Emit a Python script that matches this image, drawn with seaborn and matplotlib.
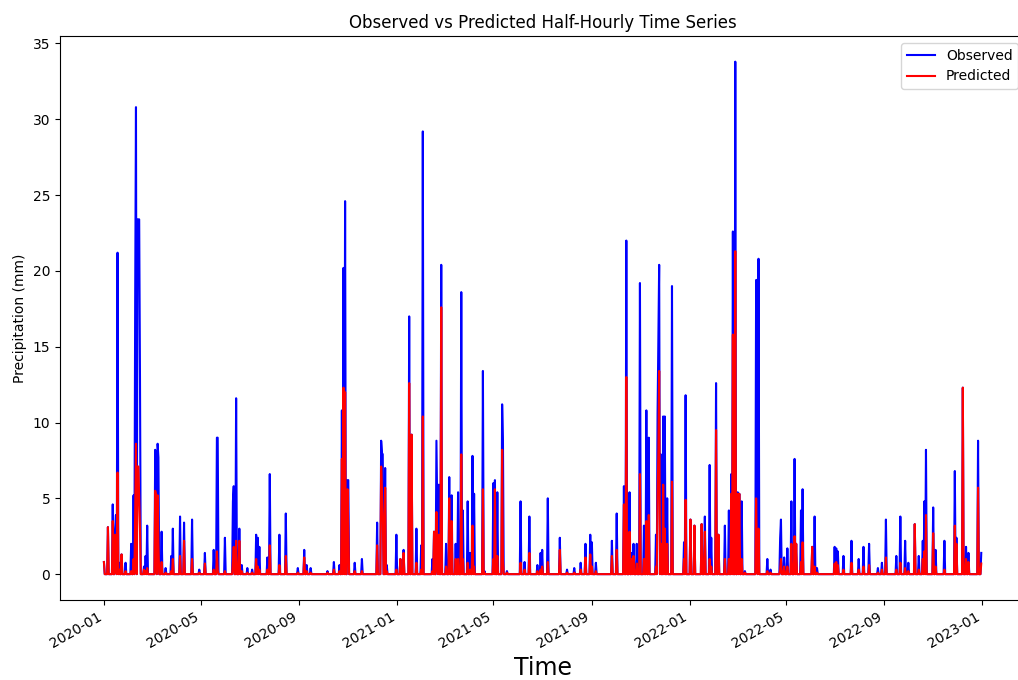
"""Observed vs predicted precipitation, half-hourly series (2020-2022).

Spike events are read off the reference chart: day offset from START,
observed peak and predicted peak in mm. All other steps are dry (0 mm).
"""

import pandas as pd
import matplotlib
matplotlib.use('Agg')
import matplotlib.pyplot as plt
import seaborn as sns

START = '2020-01-01'
END = '2022-12-31'

# day offset from START for each rain event
EVENT_DAY = [
    0, 5, 11, 14, 15, 17, 19, 22, 27, 34, 37, 39, 40, 42, 43, 44, 45, 50, 52, 54,
    64, 65, 67, 68, 72, 77, 84, 86, 95, 100, 110, 119, 126, 137, 141, 142, 151,
    161, 162, 165, 169, 172, 179, 185, 190, 192, 194, 204, 207, 219, 227, 242,
    250, 253, 258, 279, 287, 294, 297, 299, 301, 304, 305, 313, 322, 341, 346,
    347, 348, 351, 353, 365, 370, 374, 381, 384, 390, 396, 398, 410, 412, 415,
    416, 418, 421, 427, 431, 434, 439, 442, 446, 448, 454, 457, 460, 462, 473,
    475, 486, 488, 491, 497, 498, 503, 520, 525, 531, 541, 545, 547, 554, 569,
    578, 587, 595, 601, 607, 609, 614, 634, 640, 649, 652, 656, 659, 661, 665,
    669, 674, 677, 680, 689, 691, 692, 693, 695, 698, 700, 703, 709, 724, 726,
    732, 737, 746, 750, 756, 758, 764, 767, 775, 780, 783, 785, 788, 791, 793,
    796, 800, 814, 815, 817, 828, 832, 844, 845, 849, 853, 858, 862, 864, 870,
    872, 884, 887, 890, 912, 914, 916, 923, 933, 942, 948, 955, 966, 971, 976,
    989, 994, 1000, 1004, 1012, 1017, 1022, 1024, 1026, 1035, 1038, 1049, 1062,
    1064, 1072, 1076, 1079, 1091, 1095,
]

# observed peak (mm) per event
OBSERVED_MM = [
    0.8, 3.1, 4.6, 3.0, 3.9, 21.2, 0.75, 1.3, 0.75, 2.0, 5.2, 18.0, 30.8, 23.4, 23.4, 23.4, 13.0, 0.5, 1.2, 3.2,
    8.2, 5.5, 8.6, 7.7, 2.8, 0.4, 1.2, 3.0, 3.8, 3.4, 3.6, 0.3, 1.4, 1.6, 9.0, 9.0, 2.4,
    4.8, 5.8, 11.6, 3.0, 0.6, 0.4, 0.3, 2.6, 2.4, 1.8, 1.1, 6.6, 2.6, 4.0, 0.4,
    1.6, 0.6, 0.4, 0.2, 0.8, 0.6, 10.8, 20.2, 24.6, 6.2, 6.2, 0.75, 1.0, 3.4, 8.8,
    8.0, 7.9, 7.0, 0.6, 2.6, 1.0, 1.6, 17.0, 9.2, 3.0, 1.9, 29.2, 1.0, 2.8, 8.8,
    4.5, 5.9, 20.4, 2.0, 6.4, 5.2, 2.0, 5.4, 18.6, 4.2, 4.8, 1.4, 7.8, 5.3, 13.4,
    0.2, 6.0, 6.2, 5.4, 11.2, 8.9, 0.2, 4.8, 0.8, 3.8, 0.6, 1.4, 1.6, 5.0, 2.4,
    0.3, 0.4, 0.75, 2.0, 2.6, 2.1, 0.75, 2.2, 4.0, 5.8, 22.0, 5.4, 1.4, 2.0, 2.0,
    19.2, 3.2, 10.8, 9.0, 2.6, 10.6, 15.4, 20.4, 7.9, 10.4, 10.4, 5.0, 19.0, 2.1, 11.8,
    3.6, 3.2, 3.3, 3.8, 7.2, 2.4, 12.6, 2.6, 3.2, 4.2, 6.6, 22.6, 33.8, 5.4, 5.3,
    4.8, 0.2, 19.4, 19.4, 20.8, 1.0, 0.3, 2.4, 3.6, 1.1, 1.7, 4.8, 7.6, 2.0, 4.2,
    5.6, 1.8, 3.8, 0.4, 1.8, 1.7, 1.5, 1.2, 2.2, 1.0, 1.8, 2.0, 0.4, 0.75, 3.6,
    1.2, 3.8, 2.2, 0.75, 3.3, 1.2, 2.2, 4.8, 8.2, 4.4, 1.6, 2.2, 6.8,
    2.4, 12.3, 1.8, 1.4, 8.8, 1.4,
]

# predicted peak (mm) per event
PREDICTED_MM = [
    0.8, 3.1, 3.5, 2.6, 1.0, 6.7, 0.3, 1.3, 0.2, 0.2, 1.0, 4.0, 8.6, 7.1, 7.1, 5.0, 3.0, 0.3, 0.2, 0.4,
    5.5, 5.2, 5.2, 2.0, 0.8, 0.1, 0.2, 1.0, 1.2, 2.2, 1.0, 0.1, 0.7, 0.3, 1.5, 0.3, 0.2,
    0.8, 1.8, 2.2, 2.2, 0.2, 0.1, 0.1, 1.0, 0.5, 0.3, 0.3, 1.9, 0.6, 1.2, 0.1,
    1.1, 0.2, 0.1, 0.1, 0.3, 0.2, 7.6, 12.3, 12.0, 5.6, 3.0, 0.2, 0.2, 1.9, 7.1,
    5.6, 4.0, 5.7, 0.2, 0.3, 1.0, 1.4, 12.6, 9.2, 0.75, 0.3, 10.4, 0.2, 2.8, 4.1,
    0.5, 2.6, 17.6, 0.5, 5.0, 3.5, 1.0, 1.0, 7.9, 1.0, 0.75, 0.3, 3.2, 0.5, 5.6,
    0.1, 1.0, 5.6, 1.2, 8.2, 1.0, 0.1, 0.75, 0.3, 1.4, 0.2, 0.3, 0.5, 0.8, 1.6,
    0.1, 0.1, 0.3, 1.1, 1.3, 0.5, 0.2, 1.2, 1.6, 4.6, 13.0, 2.8, 1.0, 1.2, 0.7,
    6.6, 1.0, 3.5, 3.9, 0.5, 5.2, 8.0, 13.4, 2.0, 5.9, 3.0, 2.0, 6.1, 1.0, 4.9,
    3.6, 3.2, 3.3, 2.8, 1.0, 0.5, 9.5, 2.6, 1.0, 1.0, 5.3, 15.8, 21.3, 5.3, 5.3,
    1.0, 0.1, 5.0, 1.5, 3.0, 0.2, 0.1, 0.3, 1.0, 0.5, 0.5, 2.0, 2.5, 2.0, 0.8,
    2.1, 1.8, 0.5, 0.1, 0.7, 0.8, 0.6, 0.3, 0.75, 0.3, 0.5, 0.6, 0.1, 0.3, 1.1,
    0.3, 0.75, 0.4, 0.2, 3.3, 0.3, 1.0, 1.5, 3.9, 2.7, 0.5, 0.3, 3.2,
    2.0, 12.3, 1.0, 0.8, 5.7, 0.7,
]


def build_series():
    days = pd.date_range(START, END, freq='D')
    events = pd.DataFrame({
        'Time': pd.Timestamp(START) + pd.to_timedelta(EVENT_DAY, unit='D'),
        'Observed': OBSERVED_MM,
        'Predicted': PREDICTED_MM,
    }).groupby('Time').max()
    return events.reindex(days, fill_value=0.0).rename_axis('Time').reset_index()


def main():
    df = build_series()

    fig = plt.figure(figsize=(10.18, 6.8), dpi=100)
    ax = fig.add_axes([0.059, 0.118, 0.948, 0.829])

    sns.lineplot(data=df, x='Time', y='Observed', color='blue', label='Observed', ax=ax)
    sns.lineplot(data=df, x='Time', y='Predicted', color='red', label='Predicted', ax=ax)

    ax.set_title('Observed vs Predicted Half-Hourly Time Series')
    ax.set_xlabel('Time', fontsize=17)
    ax.set_ylabel('Precipitation (mm)')
    ax.legend(loc='upper right')
    plt.setp(ax.get_xticklabels(), rotation=30, ha='right')

    fig.savefig('out.png', dpi=100)


if __name__ == '__main__':
    main()
